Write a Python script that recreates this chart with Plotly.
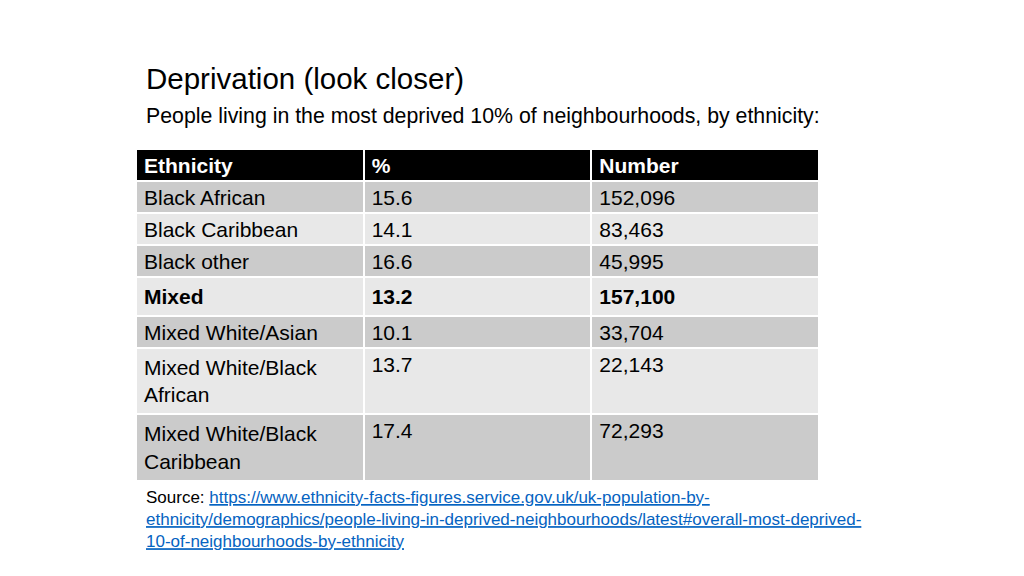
import plotly.graph_objects as go

# table data
header = ["Ethnicity", "%", "Number"]
ethnicity = ["Black African", "Black Caribbean", "Black other", "Mixed",
             "Mixed White/Asian", "Mixed White/Black<br>African", "Mixed White/Black<br>Caribbean"]
percent = ["15.6", "14.1", "16.6", "13.2", "10.1", "13.7", "17.4"]
number = ["152,096", "83,463", "45,995", "157,100", "33,704", "22,143", "72,293"]
bold_row = "Mixed"

dark_row = "#cbcbcb"
light_row = "#e8e8e8"
row_fill = [dark_row if i % 2 == 0 else light_row for i in range(len(ethnicity))]


def emphasise(col):
    return ["<b>%s</b>" % v if e == bold_row else v for v, e in zip(col, ethnicity)]


font_family = "Liberation Sans, Arial, sans-serif"

fig = go.Figure()
fig.add_trace(go.Table(
    domain=dict(x=[128 / 1024, 811 / 1024], y=[0, 1 - 141 / 576]),
    columnwidth=[1, 1, 1],
    header=dict(values=header,
                fill_color="black",
                line=dict(color="white", width=2),
                align="left",
                height=32,
                font=dict(family=font_family, size=21, color="white", weight="bold")),
    cells=dict(values=[emphasise(ethnicity), emphasise(percent), emphasise(number)],
               fill_color=[row_fill] * 3,
               line=dict(color="white", width=2),
               align="left",
               height=32,
               font=dict(family=font_family, size=21, color="black")),
))

fig.add_annotation(x=136 / 1024, y=1 - 70 / 576, xref="paper", yref="paper",
                   xanchor="left", yanchor="middle", showarrow=False,
                   text="Deprivation (look closer)",
                   font=dict(family=font_family, size=29.5, color="black"))
fig.add_annotation(x=136 / 1024, y=1 - 108 / 576, xref="paper", yref="paper",
                   xanchor="left", yanchor="middle", showarrow=False,
                   text="People living in the most deprived 10% of neighbourhoods, by ethnicity:",
                   font=dict(family=font_family, size=21.3, color="black"))

url_lines = ["https://www.ethnicity-facts-figures.service.gov.uk/uk-population-by-",
             "ethnicity/demographics/people-living-in-deprived-neighbourhoods/latest#overall-most-deprived-",
             "10-of-neighbourhoods-by-ethnicity"]
source_text = "Source: " + "<br>".join(
    "<span style='color:#0563c1'><u>%s</u></span>" % ln for ln in url_lines)
fig.add_annotation(x=136 / 1024, y=1 - 478 / 576, xref="paper", yref="paper",
                   xanchor="left", yanchor="top", showarrow=False, align="left",
                   text=source_text,
                   font=dict(family=font_family, size=17, color="black"))

fig.update_layout(width=1024, height=576, margin=dict(l=0, r=0, t=0, b=0),
                  paper_bgcolor="white", plot_bgcolor="white", showlegend=False)

fig.write_html("out.html")
